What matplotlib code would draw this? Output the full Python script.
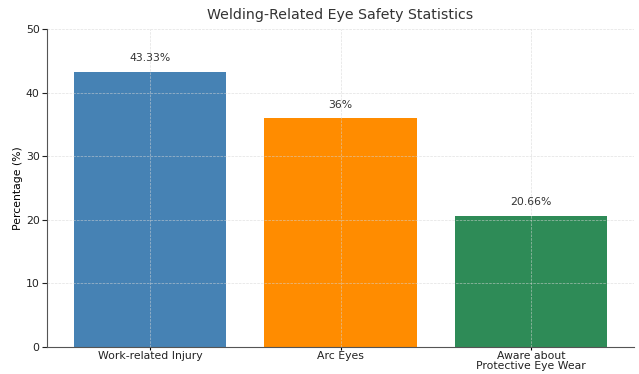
import numpy as np
import matplotlib.pyplot as plt

categories = ["Work-related Injury", "Arc Eyes", "Aware about\nProtective Eye Wear"]
values = [43.33, 36, 20.66]
labels = ["43.33%", "36%", "20.66%"]
colors = ["steelblue", "darkorange", "seagreen"]

fig, ax = plt.subplots(figsize=(6.39, 3.74), dpi=100)
x = np.arange(len(categories))
bars = ax.bar(x, values, color=colors, width=0.8)

for b, lab in zip(bars, labels):
    ax.text(b.get_x() + b.get_width() / 2, b.get_height() + 1.3, lab,
            ha="center", va="bottom", fontsize=7.8, color="#333333")

ax.set_xticks(x)
ax.set_xticklabels(categories, fontsize=7.8, color="#222222", linespacing=1.0)
ax.set_ylim(0, 50)
ax.set_yticks([0, 10, 20, 30, 40, 50])
ax.tick_params(axis="y", labelsize=7.8, colors="#222222", pad=2)
ax.tick_params(axis="x", length=2, pad=1)
ax.set_ylabel("Percentage (%)", fontsize=7.8, labelpad=2)
ax.set_title("Welding-Related Eye Safety Statistics", fontsize=10.2, color="#333333", pad=7)
ax.grid(True, linestyle="--", linewidth=0.5, color="#d5d5d5", alpha=0.7)
ax.spines["top"].set_visible(False)
ax.spines["right"].set_visible(False)
for s in ["left", "bottom"]:
    ax.spines[s].set_color("#555555")

plt.subplots_adjust(left=0.074, right=0.992, top=0.922, bottom=0.072)
plt.savefig("out.png")
